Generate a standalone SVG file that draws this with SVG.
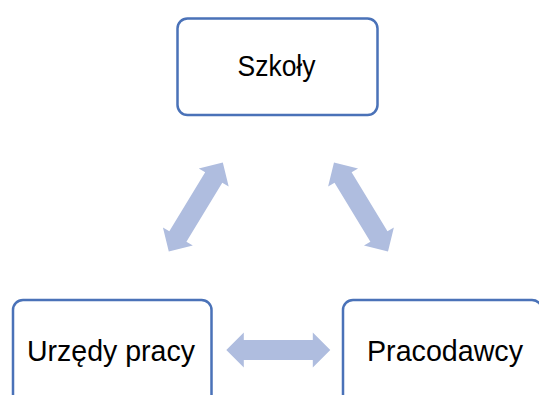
<svg xmlns="http://www.w3.org/2000/svg" xmlns:xlink="http://www.w3.org/1999/xlink" width="539" height="395" viewBox="0 0 539 395">
<style>
.box{fill:#fff;stroke:#4A72B8;stroke-width:2.5}
.lbl{font-family:"Liberation Sans",Arial,sans-serif;font-size:29px;fill:#000;text-anchor:middle}
.arr{fill:#AFBDDF}
</style>
<defs>
<polygon id="dbl" points="-52,0 -34.5,-17.5 -34.5,-10 34.5,-10 34.5,-17.5 52,0 34.5,17.5 34.5,10 -34.5,10 -34.5,17.5"/>
</defs>
<rect width="539" height="395" fill="#fff"/>
<g id="connectors">
<use xlink:href="#dbl" class="arr" transform="translate(195.8,207) rotate(-58.7)"/>
<use xlink:href="#dbl" class="arr" transform="translate(361,207) rotate(58.7)"/>
<use xlink:href="#dbl" class="arr" transform="translate(278.3,350)"/>
</g>
<g id="szkoly">
<rect class="box" x="177.5" y="18.5" width="200" height="96.5" rx="10"/>
<text class="lbl" x="276.5" y="76" textLength="78" lengthAdjust="spacingAndGlyphs">Szkoły</text>
</g>
<g id="urzedy">
<rect class="box" x="13" y="300" width="198.5" height="110" rx="10"/>
<text class="lbl" x="111" y="361" textLength="168" lengthAdjust="spacingAndGlyphs">Urzędy pracy</text>
</g>
<g id="pracodawcy">
<rect class="box" x="343" y="300" width="199" height="110" rx="10"/>
<text class="lbl" x="445" y="361" textLength="156" lengthAdjust="spacingAndGlyphs">Pracodawcy</text>
</g>
</svg>
